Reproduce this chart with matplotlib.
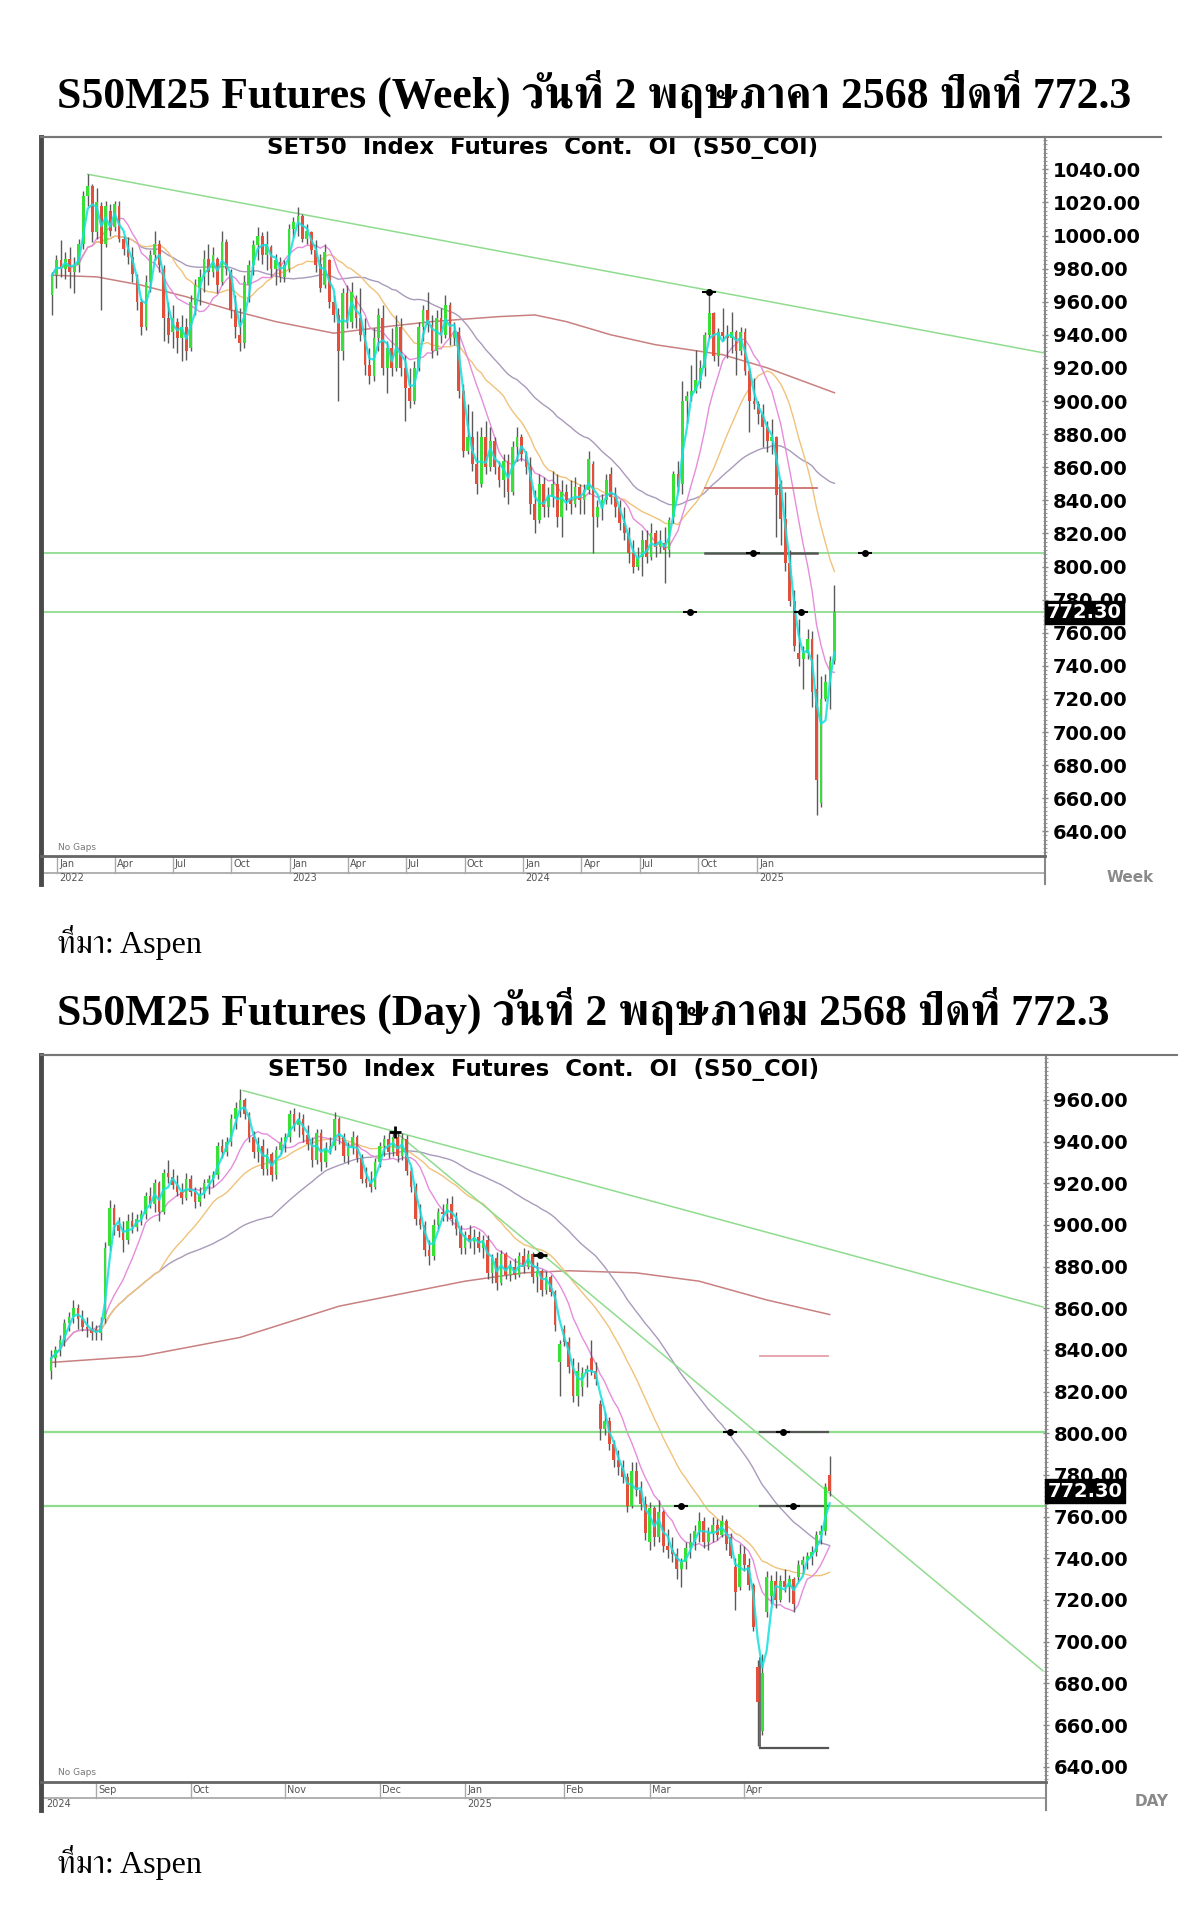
import numpy as np
import pandas as pd
import matplotlib
matplotlib.use("Agg")
import matplotlib.pyplot as plt
from matplotlib import font_manager
from matplotlib.ft2font import FT2Font
from matplotlib.lines import Line2D
from matplotlib.ticker import MultipleLocator

# ---------------- DATA ----------------
title_week = "S50M25 Futures (Week) วันที่ 2 พฤษภาคา 2568 ปิดที่ 772.3"
title_day = "S50M25 Futures (Day) วันที่ 2 พฤษภาคม 2568 ปิดที่ 772.3"
source_text = "ที่มา: Aspen"
chart_title = "SET50  Index  Futures  Cont.  OI  (S50_COI)"
last_close = 772.30

# weekly candles (week ending Friday, from 2021-12-24)
w_open = [964,976,985,980,986,978,982,995,1024,1030,1002,1018,995,1015,1005,1018,998,992,987,975,
          960,945,972,988,995,980,950,942,948,938,945,932,958,968,975,986,978,986,972,996,
          978,955,940,935,970,982,994,1000,988,993,980,984,975,980,1004,1008,1012,998,1002,991,
          983,970,985,960,952,930,965,948,962,950,940,922,915,938,950,920,932,920,945,920,
          908,900,920,945,955,946,930,950,940,958,938,942,906,870,878,862,850,878,860,876,
          860,852,864,845,872,878,868,860,838,828,850,836,842,850,830,845,840,838,848,840,
          846,862,830,836,840,856,842,836,826,820,808,800,806,816,806,820,812,814,810,830,
          856,850,900,903,906,913,920,940,953,927,942,939,938,942,930,942,918,900,898,892,
          884,876,878,850,829,802,779,748,744,748,756,726,657,720,730,743]
w_high = [978,988,997,990,993,987,998,1027,1037,1031,1029,1020,1021,1019,1021,1021,1000,999,993,977,
          962,976,991,1003,997,982,960,958,950,952,950,964,974,980,991,995,993,987,1003,998,
          980,964,956,976,985,997,1005,1002,1003,994,989,987,985,1007,1011,1017,1013,1007,1003,997,
          989,995,986,964,956,968,970,972,964,968,950,932,944,956,958,936,944,952,950,928,
          920,924,948,958,966,952,955,956,964,960,948,945,910,898,894,882,884,888,884,878,
          864,868,868,876,884,880,870,866,846,856,854,848,858,856,852,850,852,854,850,850,
          870,864,840,844,856,860,848,840,836,824,816,812,822,822,826,822,822,824,830,858,
          864,912,906,922,931,925,942,965,954,944,956,946,954,943,945,944,920,914,900,898,
          888,889,879,852,845,810,786,768,752,762,761,747,734,735,746,789]
w_low = [952,968,975,974,968,965,978,992,1018,996,998,955,993,1000,1003,996,988,983,972,955,
         940,943,966,985,978,936,935,932,929,924,925,930,952,958,966,970,975,965,970,976,
         950,938,930,932,960,976,985,983,979,975,970,972,972,978,999,1000,996,995,989,978,
         966,968,956,948,900,925,944,944,944,936,916,910,912,930,916,905,915,918,915,888,
         896,898,918,936,942,926,928,935,938,934,934,902,866,868,858,844,848,856,858,856,
         848,842,838,843,864,864,856,832,820,826,830,830,836,824,818,834,832,836,832,832,
         844,808,824,828,838,838,830,822,816,802,796,798,794,802,804,806,808,790,806,826,
         845,844,887,900,905,908,915,938,924,921,936,926,929,916,928,916,881,895,886,872,
         869,868,818,813,797,776,749,740,726,744,715,650,655,719,714,741]
w_close = [976,985,980,986,978,982,995,1024,1030,1002,1020,995,1018,1003,1019,998,992,987,977,960,
           945,972,988,995,982,950,940,950,938,945,930,960,970,975,986,978,988,970,996,980,
           955,945,935,972,982,994,1000,988,995,980,985,975,982,1004,1008,1012,998,1003,991,982,
           968,990,960,952,930,965,948,966,950,940,922,915,938,952,920,932,920,945,920,908,
           900,920,945,955,946,930,950,940,958,938,942,906,870,878,862,850,878,860,876,860,
           852,864,845,872,878,868,860,838,828,850,836,842,850,830,845,840,838,848,840,846,
           865,830,836,840,852,842,836,826,820,808,800,806,816,806,820,812,814,810,828,856,
           848,900,903,906,913,920,940,953,927,942,939,938,942,930,942,918,900,898,892,884,
           876,878,843,829,802,779,752,744,748,756,724,671,720,730,743,772.3]
# long (brown) weekly average line, read at a few weeks
w_long_idx = [0, 10, 20, 30, 40, 50, 63, 75, 85, 100, 108, 115, 125, 135, 145, 150, 160, 168, 175]
w_long_val = [976, 975, 970, 963, 955, 948, 941, 945, 948, 951, 952, 948, 940, 934, 930, 928, 920, 912, 905]
# weekly drawn lines / levels
w_trend_x = [8, 222]
w_trend_y = [1037, 929]
w_levels = [808, 772.3]
w_seg_x = [146, 171]
w_seg_808 = 808
w_seg_848 = 847.5
w_dots_x = [156.7, 181.8, 142.7, 167.5, 147]
w_dots_y = [808, 808, 772.3, 772.3, 966]

# daily candles (Thai trading days 2024-08-19 .. 2025-05-02)
thai_holidays = ["2024-10-14", "2024-10-23", "2024-12-05", "2024-12-10", "2024-12-31",
                 "2025-01-01", "2025-02-12", "2025-04-07", "2025-04-14", "2025-04-15", "2025-05-01"]
d_open = [830,836,840,845,853,856,860,855,851,850,850,848,855,890,908,900,897,893,902,899,
          903,905,914,910,920,906,925,923,919,916,913,922,916,911,915,920,922,924,938,935,
          940,951,956,960,953,942,935,938,927,934,924,936,940,942,953,948,951,943,939,931,
          944,930,936,938,951,942,933,937,942,932,922,920,918,930,938,941,935,942,933,941,
          926,918,903,900,888,885,900,906,905,910,903,898,889,895,892,894,889,893,877,884,
          872,886,876,880,876,885,880,886,875,878,869,875,868,834,850,844,832,818,822,829,
          836,830,814,802,806,795,787,784,779,765,782,773,766,748,764,750,762,746,744,742,
          735,738,745,748,753,758,748,752,756,751,758,750,736,726,742,737,727,688,657,714,
          722,729,720,729,726,730,731,737,739,741,743,751,753,780]
d_high = [840,842,847,855,858,864,862,859,856,854,852,856,892,912,910,904,902,905,906,905,
          907,916,918,922,921,927,931,927,924,920,925,924,918,918,922,924,926,940,941,942,
          953,959,965,961,954,945,942,941,937,935,938,942,944,955,956,954,953,948,942,946,
          946,940,942,954,952,944,940,945,943,934,928,926,932,940,943,944,945,944,944,943,
          928,920,910,902,893,903,908,910,913,914,906,900,897,900,898,897,895,895,886,887,
          888,887,883,884,887,889,888,887,882,879,878,876,869,845,852,846,836,834,832,833,
          845,834,816,810,808,797,792,787,781,786,786,777,770,767,765,768,763,754,750,745,
          740,748,752,756,762,760,755,760,759,761,759,752,740,747,746,740,728,691,694,734,
          732,734,732,735,732,731,739,741,743,746,753,756,776,789]
d_low = [826,832,837,842,849,853,850,849,846,845,845,845,853,888,895,894,887,891,896,897,
         900,903,908,906,902,905,920,917,914,910,912,914,908,909,913,915,918,922,932,933,
         938,946,952,951,940,932,930,924,924,921,922,934,935,940,945,942,940,936,928,929,
         926,928,934,936,939,930,929,934,930,920,918,916,917,928,933,932,933,930,931,924,
         916,900,898,885,881,883,898,902,902,900,895,886,886,889,886,887,884,874,872,869,
         871,874,873,874,875,877,879,872,868,866,867,866,849,818,842,829,815,813,818,822,
         828,823,797,799,792,784,780,776,762,764,770,763,749,744,746,748,743,740,738,730,
         726,735,740,744,748,745,744,748,749,750,744,740,715,725,734,725,705,650,655,712,
         718,716,719,724,719,714,729,733,735,737,741,747,751,770]
d_close = [836,840,845,853,856,860,855,851,850,848,848,852,889,908,900,897,893,902,899,903,
           905,914,910,920,906,925,923,919,916,913,922,916,911,915,920,922,924,938,935,940,
           951,956,960,953,942,935,938,927,934,924,936,940,942,953,948,951,943,939,931,944,
           930,936,938,951,942,933,937,942,932,922,920,918,930,938,941,935,942,933,941,926,
           918,903,900,888,885,900,906,905,910,903,898,889,895,892,894,889,893,877,884,872,
           886,876,880,876,885,880,886,875,878,869,875,868,852,843,844,832,818,830,829,831,
           830,826,802,806,795,787,784,779,765,782,773,766,752,764,750,762,746,744,742,735,
           738,745,748,753,758,748,752,756,751,758,747,741,724,742,737,727,707,671,685,731,
           729,720,729,726,730,718,737,739,741,743,751,753,774,772.3]
# long (brown) daily average line, read at a few days
d_long_idx = [0, 20, 42, 64, 78, 92, 105, 115, 130, 144, 159, 173]
d_long_val = [834, 837, 846, 861, 867, 873, 877, 878, 877, 873, 864, 857]
# daily drawn lines / levels
d_trend1_x = [42.7, 220.4]
d_trend1_y = [964.5, 860.6]
d_trend2_x = [76.4, 220.4]
d_trend2_y = [944.8, 686]
d_levels = [800.5, 765]
d_seg_x = [157.6, 172.7]
d_seg_levels = [800.5, 765, 649]
d_pink_level = 837
d_dots_x = [150.9, 162.7, 139.9, 164.9]
d_dots_y = [800.5, 800.5, 765, 765]
d_cross = (76.4, 944.8)
d_dash = (108.7, 885.6)

# ---------------- FONTS ----------------
def thai_font_names():
    serif, other, seen = [], [], set()
    for fe in font_manager.fontManager.ttflist:
        if fe.name in seen:
            continue
        try:
            cmap = FT2Font(fe.fname).get_charmap()
        except Exception:
            continue
        if 0x0E27 in cmap and 0x0E1E in cmap and 0x0E34 in cmap:
            seen.add(fe.name)
            low = fe.name.lower()
            if ("serif" in low and "sans" not in low) or any(k in fe.name for k in ("Norasi", "Kinnari", "Laksaman", "Sarabun")):
                serif.append(fe.name)
            else:
                other.append(fe.name)
    return serif + other

THAI = thai_font_names()
SERIF_FAM = ["Liberation Serif"] + THAI + ["DejaVu Sans"]
plt.rcParams["font.family"] = ["DejaVu Sans"]

W, H = 1200, 1907
fig = plt.figure(figsize=(W / 100, H / 100), dpi=100)
fig.patch.set_facecolor("white")

UP, DOWN, WICK = "#38e038", "#e2503c", "#5a5a5a"
C_CYAN, C_PINK, C_ORNG, C_GRAY, C_BRWN = "#14e0e0", "#e58ddc", "#f0c27a", "#a99abb", "#c98080"
C_GREENLINE = "#8fdc8f"
LBL_SIZE = 14


def fy2f(fy):
    return 1 - fy / H


def candles(ax, x, o, h, l, c, width):
    o, h, l, c = map(lambda a: np.asarray(a, float), (o, h, l, c))
    up = c >= o
    ax.vlines(x, l, h, color=WICK, lw=1.0, zorder=3)
    lo = np.minimum(o, c)
    ht = np.maximum(np.abs(c - o), 0.8)
    ax.bar(x[up], ht[up], width, bottom=lo[up], color=UP, lw=0, zorder=4)
    ax.bar(x[~up], ht[~up], width, bottom=lo[~up], color=DOWN, lw=0, zorder=4)


def style_axis(ax, ymin, ymax, ticks, minor):
    ax.set_ylim(ymin, ymax)
    ax.yaxis.tick_right()
    ax.set_yticks(ticks)
    ax.set_yticklabels([f"{t:.2f}" for t in ticks])
    ax.yaxis.set_minor_locator(MultipleLocator(minor))
    ax.tick_params(axis="y", which="major", direction="inout", length=5, width=1,
                   color="#888", labelsize=LBL_SIZE, pad=3, labelcolor="black")
    ax.tick_params(axis="y", which="minor", direction="inout", length=3, width=0.8, color="#999")
    for lb in ax.get_yticklabels():
        lb.set_fontweight("bold")
    ax.set_xticks([])
    ax.spines["left"].set_linewidth(3.5)
    ax.spines["left"].set_color("#4a4a4a")
    ax.spines["right"].set_color("#888")
    ax.spines["right"].set_linewidth(1.5)
    ax.spines["top"].set_color("#777")
    ax.spines["top"].set_linewidth(1.5)
    ax.spines["bottom"].set_color("#666")
    ax.spines["bottom"].set_linewidth(2)


def date_band(ax, ax_h_px, tick_pos, tick_lbl, year_pos, year_lbl):
    tr = ax.get_xaxis_transform()
    y1 = -16.7 / ax_h_px
    y_end = -28.0 / ax_h_px
    ax.plot([0, 1], [y1, y1], transform=ax.transAxes, color="#aaa", lw=1.3, clip_on=False)
    ax.plot([0, 0], [0, y_end], transform=ax.transAxes, color="#4a4a4a", lw=3.5, clip_on=False)
    ax.plot([1, 1], [0, y_end], transform=ax.transAxes, color="#888", lw=1.5, clip_on=False)
    for p, lab in zip(tick_pos, tick_lbl):
        ax.plot([p, p], [0, y1], transform=tr, color="#aaa", lw=1.0, clip_on=False)
        ax.annotate(lab, xy=(p, y1 / 2), xycoords=tr, xytext=(2, 0), textcoords="offset pixels",
                    fontsize=7, color="#555", va="center", ha="left", annotation_clip=False)
    for p, lab in zip(year_pos, year_lbl):
        ax.annotate(lab, xy=(p, (y1 + y_end) / 2), xycoords=tr, xytext=(2, 0), textcoords="offset pixels",
                    fontsize=7, color="#555", va="center", ha="left", annotation_clip=False)


def last_box(ax):
    tr = ax.get_yaxis_transform()
    ax.annotate(f"{last_close:.2f}", xy=(1.0, last_close), xycoords=tr, xytext=(2, 0),
                textcoords="offset pixels", ha="left", va="center", fontsize=LBL_SIZE,
                fontweight="bold", color="white", annotation_clip=False, zorder=10,
                bbox=dict(boxstyle="square,pad=0.12", fc="black", ec="black"))


# ================= WEEKLY =================
axw_box = (41, 136.7, 1045, 856)
axw = fig.add_axes([axw_box[0] / W, fy2f(axw_box[3]), (axw_box[2] - axw_box[0]) / W,
                    (axw_box[3] - axw_box[1]) / H])
w_h_px = axw_box[3] - axw_box[1]
w_dates = pd.date_range("2021-12-24", periods=len(w_close), freq="W-FRI")
wx = ((w_dates - w_dates[0]).days / 7).to_numpy(float)
axw.set_xlim(-2.46, 222.1)
style_axis(axw, 625.1, 1059.7, np.arange(640, 1041, 20), 2.5)

wc = pd.Series(w_close, dtype=float)
axw.plot(w_long_idx, w_long_val, color=C_BRWN, lw=1.1, zorder=2)
axw.plot(wx, wc.rolling(40, min_periods=1).mean(), color=C_GRAY, lw=1.0, zorder=2)
axw.plot(wx, wc.rolling(20, min_periods=1).mean(), color=C_ORNG, lw=1.0, zorder=2)
axw.plot(wx, wc.rolling(10, min_periods=1).mean(), color=C_PINK, lw=1.0, zorder=2)
axw.plot(w_trend_x, w_trend_y, color=C_GREENLINE, lw=1.1, zorder=2)
for lv in w_levels:
    axw.axhline(lv, color=C_GREENLINE, lw=1.3, zorder=2)
axw.plot(w_seg_x, [w_seg_808] * 2, color="#555", lw=1.8, zorder=3)
axw.plot(w_seg_x, [w_seg_848] * 2, color="#c97070", lw=1.3, zorder=3)
candles(axw, wx, w_open, w_high, w_low, w_close, 0.62)
axw.plot(wx, wc.rolling(3, min_periods=1).mean(), color=C_CYAN, lw=1.6, alpha=0.85, zorder=5)
axw.plot(w_dots_x, w_dots_y, "o", color="black", ms=4, zorder=6, clip_on=False)
axw.plot(w_dots_x, w_dots_y, "_", color="black", ms=10, mew=1.5, zorder=6, clip_on=False)
last_box(axw)

q_dates = pd.date_range("2022-01-01", "2025-01-01", freq="QS")
q_pos = ((q_dates - w_dates[0]).days / 7).to_numpy(float)
q_lbl = [d.strftime("%b") for d in q_dates]
y_dates = [d for d in q_dates if d.month == 1]
y_pos = ((pd.DatetimeIndex(y_dates) - w_dates[0]).days / 7).to_numpy(float)
date_band(axw, w_h_px, q_pos, q_lbl, y_pos, [str(d.year) for d in y_dates])

axw.annotate(chart_title, xy=(0.5, 1), xycoords="axes fraction", xytext=(0, -11),
             textcoords="offset pixels", ha="center", va="center", fontsize=16.5, fontweight="bold")
axw.annotate("No Gaps", xy=(0, 0), xycoords="axes fraction", xytext=(17, 9), textcoords="offset pixels",
             ha="left", va="center", fontsize=6.5, color="#777")
fig.add_artist(Line2D([axw_box[0] / W, 1161 / W], [fy2f(axw_box[1])] * 2, transform=fig.transFigure,
                      color="#777", lw=1.5))
fig.text(1107 / W, fy2f(878), "Week", fontsize=11, fontweight="bold", color="#8a8a8a", va="center")

# ================= DAILY =================
axd_box = (41, 1055.3, 1045.7, 1781.7)
axd = fig.add_axes([axd_box[0] / W, fy2f(axd_box[3]), (axd_box[2] - axd_box[0]) / W,
                    (axd_box[3] - axd_box[1]) / H])
d_h_px = axd_box[3] - axd_box[1]
bdays = pd.bdate_range("2024-08-19", "2025-05-02")
d_dates = bdays[~bdays.isin(pd.to_datetime(thai_holidays))][:len(d_close)]
dx = np.arange(len(d_close), dtype=float)
axd.set_xlim(-2.22, 221.0)
style_axis(axd, 632.8, 981.4, np.arange(640, 961, 20), 2)

dc = pd.Series(d_close, dtype=float)
axd.plot(d_long_idx, d_long_val, color=C_BRWN, lw=1.1, zorder=2)
axd.plot(dx, dc.rolling(50, min_periods=1).mean(), color=C_GRAY, lw=1.0, zorder=2)
axd.plot(dx, dc.rolling(25, min_periods=1).mean(), color=C_ORNG, lw=1.0, zorder=2)
axd.plot(dx, dc.rolling(10, min_periods=1).mean(), color=C_PINK, lw=1.0, zorder=2)
axd.plot(d_trend1_x, d_trend1_y, color=C_GREENLINE, lw=1.1, zorder=2)
axd.plot(d_trend2_x, d_trend2_y, color=C_GREENLINE, lw=1.1, zorder=2)
for lv in d_levels:
    axd.axhline(lv, color=C_GREENLINE, lw=1.6, zorder=2)
for lv in d_seg_levels:
    axd.plot(d_seg_x, [lv] * 2, color="#555", lw=1.6, zorder=3)
axd.plot([d_seg_x[0]] * 2, [d_seg_levels[2], 692], color="#555", lw=1.2, zorder=3)
axd.plot(d_seg_x, [d_pink_level] * 2, color="#e4a0a8", lw=1.3, zorder=3)
candles(axd, dx, d_open, d_high, d_low, d_close, 0.62)
axd.plot(dx, dc.rolling(3, min_periods=1).mean(), color=C_CYAN, lw=1.6, alpha=0.85, zorder=5)
axd.plot(d_dots_x, d_dots_y, "o", color="black", ms=4, zorder=6)
axd.plot(d_dots_x, d_dots_y, "_", color="black", ms=10, mew=1.5, zorder=6)
axd.plot([d_cross[0]], [d_cross[1]], "+", color="black", ms=9, mew=2, zorder=6)
axd.plot([d_dash[0]], [d_dash[1]], "o", color="black", ms=4, zorder=6)
axd.plot([d_dash[0]], [d_dash[1]], "_", color="black", ms=10, mew=2, zorder=6)
last_box(axd)

m_starts = pd.date_range("2024-09-01", "2025-04-01", freq="MS")
m_pos = [float(np.argmax(d_dates >= m)) for m in m_starts]
m_lbl = [m.strftime("%b") for m in m_starts]
date_band(axd, d_h_px, m_pos, m_lbl, [-1.5, m_pos[4]], ["2024", "2025"])

axd.annotate(chart_title, xy=(0.5, 1), xycoords="axes fraction", xytext=(0, -14),
             textcoords="offset pixels", ha="center", va="center", fontsize=16.5, fontweight="bold")
axd.annotate("No Gaps", xy=(0, 0), xycoords="axes fraction", xytext=(17, 9), textcoords="offset pixels",
             ha="left", va="center", fontsize=6.5, color="#777")
fig.add_artist(Line2D([axd_box[0] / W, 1177 / W], [fy2f(axd_box[1])] * 2, transform=fig.transFigure,
                      color="#777", lw=1.5))
fig.text(1135 / W, fy2f(1802), "DAY", fontsize=11, fontweight="bold", color="#8a8a8a", va="center")

# ================= HEADINGS =================
fig.text(57 / W, fy2f(94), title_week, family=SERIF_FAM, fontweight="bold", fontsize=31.5,
         va="center", ha="left")
fig.text(57 / W, fy2f(942), source_text, family=SERIF_FAM, fontsize=23, va="center", ha="left")
fig.text(57 / W, fy2f(1011), title_day, family=SERIF_FAM, fontweight="bold", fontsize=31.5,
         va="center", ha="left")
fig.text(57 / W, fy2f(1863), source_text, family=SERIF_FAM, fontsize=23, va="center", ha="left")

fig.savefig("out.png", dpi=100, facecolor="white")
